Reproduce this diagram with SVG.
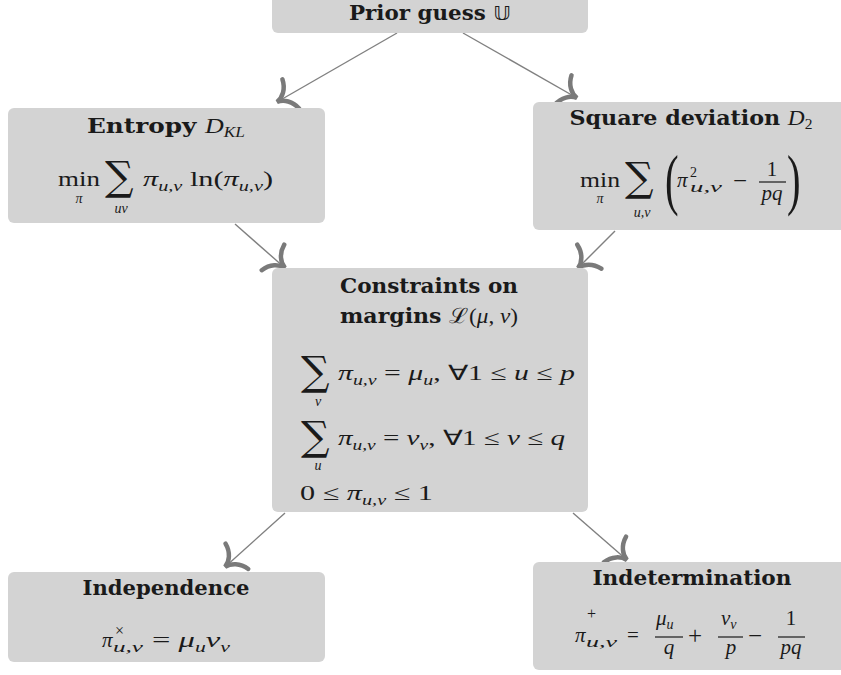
<svg xmlns="http://www.w3.org/2000/svg" width="841" height="675" viewBox="0 0 841 675">
<defs>
<style>
.box{fill:#d3d3d3}
.tt{font-family:"DejaVu Serif",serif;font-weight:bold;font-size:20px;fill:#1a1a1a}
.m{font-family:"Liberation Serif",serif;font-style:italic;font-size:21px;fill:#1a1a1a;font-weight:normal}
.r{font-family:"Liberation Serif",serif;font-style:normal;font-size:21px;fill:#1a1a1a;font-weight:normal}
.op{font-family:"Liberation Serif",serif;font-size:25px;fill:#1a1a1a}
.s{font-size:14px}
.sup{font-family:"Liberation Serif",serif;font-size:16px;fill:#1a1a1a}
.big{font-family:"Liberation Serif",serif;font-size:68px;fill:#1a1a1a;font-weight:normal}
.sum{font-family:"DejaVu Serif",serif;font-size:40px;fill:#1a1a1a}
.cal{font-family:"DejaVu Serif",serif;font-style:normal;font-weight:normal;font-size:21px}
.dbl{font-family:"DejaVu Sans",sans-serif;font-weight:normal}
.conn{stroke:#808080;stroke-width:1.4;fill:none;marker-end:url(#hook)}
</style>
<marker id="hook" markerUnits="userSpaceOnUse" viewBox="-20 -20 24 40" markerWidth="24" markerHeight="40" refX="0" refY="0" orient="auto" overflow="visible">
<path d="M -16,-17 C -14,-7 -7,-1 0,0 C -7,1 -14,7 -16,17" fill="none" stroke="#7a7a7a" stroke-width="4.5" stroke-linecap="round"/>
</marker>
</defs>

<g id="connectors">
<path class="conn" d="M397,33 L277,102"/>
<path class="conn" d="M463,33 L577,98"/>
<path class="conn" d="M235,224 L285,268"/>
<path class="conn" d="M615,231 L578,268"/>
<path class="conn" d="M285,513 L225,567"/>
<path class="conn" d="M573,513 L627,560"/>
</g>

<g id="prior">
<rect class="box" x="272" y="-10" width="316" height="43" rx="6"/>
<text class="tt" x="430" y="20" text-anchor="middle" textLength="162" lengthAdjust="spacingAndGlyphs">Prior guess <tspan class="dbl">𝕌</tspan></text>
</g>

<g id="entropy">
<rect class="box" x="8" y="108" width="317" height="115" rx="6"/>
<text class="tt" x="166" y="133" text-anchor="middle" textLength="158" lengthAdjust="spacingAndGlyphs">Entropy <tspan class="m">D</tspan><tspan class="m s" dy="4">KL</tspan></text>
<text class="r" x="58" y="186" textLength="42" lengthAdjust="spacingAndGlyphs">min</text>
<text class="m s" x="79" y="203" text-anchor="middle">π</text>
<text class="sum" x="105" y="190">∑</text>
<text class="m s" x="121" y="213" text-anchor="middle">uv</text>
<text class="m" x="143" y="186" textLength="130" lengthAdjust="spacingAndGlyphs">π<tspan class="s" dy="5">u,v</tspan><tspan class="r" dy="-5"> ln(</tspan>π<tspan class="s" dy="5">u,v</tspan><tspan class="r" dy="-5">)</tspan></text>
</g>

<g id="square">
<rect class="box" x="533" y="102" width="317" height="128" rx="6"/>
<text class="tt" x="691" y="125" text-anchor="middle" textLength="243" lengthAdjust="spacingAndGlyphs">Square deviation <tspan class="m">D</tspan><tspan class="r s" dy="4">2</tspan></text>
<text class="r" x="580" y="187" textLength="40" lengthAdjust="spacingAndGlyphs">min</text>
<text class="m s" x="600" y="203" text-anchor="middle">π</text>
<text class="sum" x="625" y="191">∑</text>
<text class="m s" x="642" y="217" text-anchor="middle">u,v</text>
<text class="big" x="0" y="0" transform="translate(665,202) scale(0.6,1)">(</text>
<text class="m" x="677" y="187">π</text>
<text class="r s" x="690" y="177">2</text>
<text class="m s" x="690" y="192" textLength="32" lengthAdjust="spacingAndGlyphs">u,v</text>
<text class="op" x="733" y="189">−</text>
<text class="r" x="772" y="176" text-anchor="middle">1</text>
<line x1="759" y1="182" x2="786" y2="182" stroke="#1a1a1a" stroke-width="1.2"/>
<text class="m" x="772" y="200" text-anchor="middle">pq</text>
<text class="big" x="0" y="0" transform="translate(787,202) scale(0.6,1)">)</text>
</g>

<g id="constraints">
<rect class="box" x="272" y="268" width="316" height="244" rx="6"/>
<text class="tt" x="429" y="293" text-anchor="middle" textLength="178" lengthAdjust="spacingAndGlyphs">Constraints on</text>
<text class="tt" x="340" y="323" textLength="178" lengthAdjust="spacingAndGlyphs">margins <tspan class="cal">ℒ</tspan><tspan class="r">(</tspan><tspan class="m">μ</tspan><tspan class="r">, </tspan><tspan class="m">ν</tspan><tspan class="r">)</tspan></text>
<text class="sum" x="301" y="385">∑</text>
<text class="m s" x="318" y="406" text-anchor="middle">v</text>
<text class="m" x="338" y="380" textLength="237" lengthAdjust="spacingAndGlyphs">π<tspan class="s" dy="5">u,v</tspan><tspan class="r" dy="-5"> = </tspan>μ<tspan class="s" dy="5">u</tspan><tspan class="r" dy="-5">, ∀1 ≤ </tspan>u<tspan class="r"> ≤ </tspan>p</text>
<text class="sum" x="301" y="450">∑</text>
<text class="m s" x="318" y="470" text-anchor="middle">u</text>
<text class="m" x="338" y="445" textLength="227" lengthAdjust="spacingAndGlyphs">π<tspan class="s" dy="5">u,v</tspan><tspan class="r" dy="-5"> = </tspan>ν<tspan class="s" dy="5">v</tspan><tspan class="r" dy="-5">, ∀1 ≤ </tspan>v<tspan class="r"> ≤ </tspan>q</text>
<text class="r" x="300" y="500" textLength="133" lengthAdjust="spacingAndGlyphs">0 ≤ <tspan class="m">π</tspan><tspan class="m s" dy="5">u,v</tspan><tspan dy="-5"> ≤ 1</tspan></text>
</g>

<g id="independence">
<rect class="box" x="8" y="572" width="317" height="90" rx="6"/>
<text class="tt" x="166" y="595" text-anchor="middle" textLength="167" lengthAdjust="spacingAndGlyphs">Independence</text>
<text class="m" x="102" y="647">π</text>
<text class="sup" x="115" y="636">×</text>
<text class="m s" x="113" y="652" textLength="30" lengthAdjust="spacingAndGlyphs">u,v</text>
<text class="r" x="152" y="647" textLength="78" lengthAdjust="spacingAndGlyphs">= <tspan class="m">μ</tspan><tspan class="m s" dy="5">u</tspan><tspan class="m" dy="-5">ν</tspan><tspan class="m s" dy="5">v</tspan></text>
</g>

<g id="indetermination">
<rect class="box" x="533" y="562" width="317" height="108" rx="6"/>
<text class="tt" x="692" y="585" text-anchor="middle" textLength="199" lengthAdjust="spacingAndGlyphs">Indetermination</text>
<text class="m" x="575" y="642">π</text>
<text class="sup" x="587" y="619">+</text>
<text class="m s" x="586" y="647" textLength="31" lengthAdjust="spacingAndGlyphs">u,v</text>
<text class="r" x="627" y="642">=</text>
<text class="m" x="656" y="625">μ<tspan class="s" dy="4">u</tspan></text>
<line x1="655" y1="637" x2="683" y2="637" stroke="#1a1a1a" stroke-width="1.2"/>
<text class="m" x="669" y="654" text-anchor="middle">q</text>
<text class="op" x="688" y="644">+</text>
<text class="m" x="721" y="625">ν<tspan class="s" dy="4">v</tspan></text>
<line x1="718" y1="637" x2="743" y2="637" stroke="#1a1a1a" stroke-width="1.2"/>
<text class="m" x="731" y="654" text-anchor="middle">p</text>
<text class="op" x="748" y="644">−</text>
<text class="r" x="791" y="625" text-anchor="middle">1</text>
<line x1="778" y1="637" x2="805" y2="637" stroke="#1a1a1a" stroke-width="1.2"/>
<text class="m" x="791" y="654" text-anchor="middle">pq</text>
</g>
</svg>
